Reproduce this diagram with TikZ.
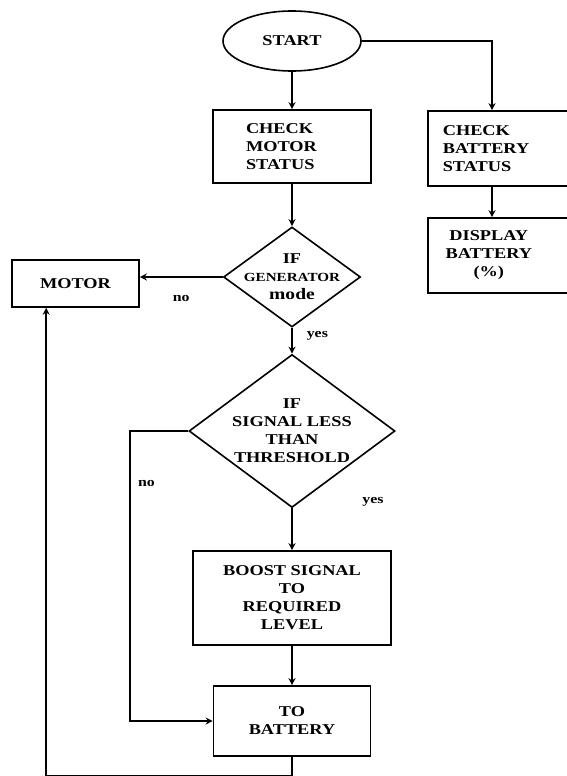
\documentclass[tikz,border=0pt]{standalone}
\usepackage{fontspec}
\setmainfont[FakeStretch=1.22]{Liberation Serif}
\usetikzlibrary{shapes.geometric,arrows.meta}

\begin{document}
\begin{tikzpicture}[x=1pt,y=-1pt]
  \tikzset{boxtext/.style={font=\bfseries\fontsize{15}{18}\selectfont,align=center,inner sep=0pt}}
  \tikzset{box/.style={draw,rectangle,line width=1.6pt,inner ysep=0pt,boxtext}}
  \tikzset{terminal/.style={draw,ellipse,line width=1.6pt,minimum width=138pt,minimum height=60pt,boxtext}}
  \tikzset{decision/.style={draw,diamond,line width=1.6pt,inner sep=0pt}}
  \tikzset{flow/.style={line width=1.6pt,-{Stealth[length=7pt,width=7pt]}}}
  \tikzset{tag/.style={font=\bfseries\fontsize{13}{15}\selectfont,inner sep=0pt}}
  \useasboundingbox (0,0) rectangle (567,776);
  \node[terminal] (start) at (292,41) {START};
  \node[box,align=left,text width=92pt,inner xsep=33pt,minimum height=73pt] (motorchk) at (292,146.5) {CHECK\\MOTOR\\STATUS};
  \node[box,align=left,anchor=west,text width=123pt,inner xsep=15pt,minimum height=75pt] (battchk) at (427,148.5) {CHECK\\BATTERY\\STATUS};
  \node[box,anchor=west,minimum width=153pt,minimum height=75pt,
        label={[boxtext,xshift=-15.5pt]center:DISPLAY\\BATTERY\\(\%)}] (display) at (427,255.5) {};
  \node[decision,minimum width=137pt,minimum height=100pt,
        label={[boxtext]center:IF\\{\fontsize{12.4}{15}\selectfont GENERATOR}\\{\fontsize{16}{18}\selectfont mode}}] (gen) at (292,277) {};
  \node[box,minimum width=127pt,minimum height=47pt] (motor) at (75.5,283.5) {MOTOR};
  \node[decision,minimum width=206pt,minimum height=153pt,
        label={[boxtext]center:IF\\SIGNAL LESS\\THAN\\THRESHOLD}] (thresh) at (292,431) {};
  \node[box,minimum width=198pt,minimum height=94pt] (boost) at (292,598) {BOOST SIGNAL\\TO\\REQUIRED\\LEVEL};
  \node[box,minimum width=157pt,minimum height=70pt] (tobatt) at (292,721) {TO\\BATTERY};
  \node[tag] (yesboost) at (373,502) {yes};
  \draw[flow] (start) -- (motorchk);
  \draw[flow] (start.east) -| ([xshift=65pt]battchk.north west);
  \draw[flow] ([xshift=65pt]battchk.south west) -- ([xshift=65pt]display.north west);
  \draw[flow] (motorchk) -- (gen);
  \draw[flow] (gen.west) -- node[tag,below=18pt]{no} (gen.west -| motor.east);
  \draw[flow] (gen) -- node[tag,right=14pt,pos=0.3]{yes} (thresh);
  \draw[flow] (thresh) -- (boost);
  \draw[flow] (thresh.west) -- ++(-58,0) |- node[tag,right=7pt,pos=0.09]{no} (tobatt.west);
  \draw[flow] (boost) -- (tobatt);
  \draw[flow] (tobatt.south) -- ++(0,19) -| ([xshift=35pt]motor.south west);
\end{tikzpicture}
\end{document}
